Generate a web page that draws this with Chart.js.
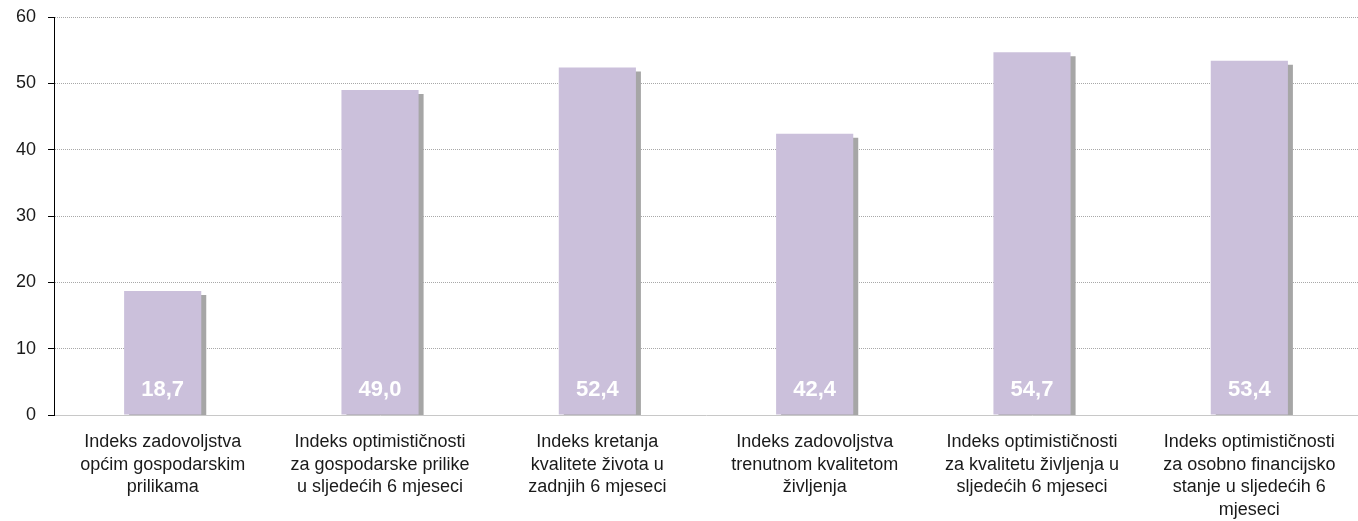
<!DOCTYPE html>
<html>
<head>
<meta charset="utf-8">
<script src="https://cdn.jsdelivr.net/npm/chart.js@4/dist/chart.umd.min.js"></script>
<style>
  html, body { margin: 0; padding: 0; background: #fff; }
  #wrap { width: 1358px; height: 521px; }
</style>
</head>
<body>
<div id="wrap"><canvas id="Chart1"></canvas></div>
<script>
var categories = [
  ['Indeks zadovoljstva', 'općim gospodarskim', 'prilikama'],
  ['Indeks optimističnosti', 'za gospodarske prilike', 'u sljedećih 6 mjeseci'],
  ['Indeks kretanja', 'kvalitete života u', 'zadnjih 6 mjeseci'],
  ['Indeks zadovoljstva', 'trenutnom kvalitetom', 'življenja'],
  ['Indeks optimističnosti', 'za kvalitetu življenja u', 'sljedećih 6 mjeseci'],
  ['Indeks optimističnosti', 'za osobno financijsko', 'stanje u sljedećih 6', 'mjeseci']
];
var values = [18.7, 49.0, 52.4, 42.4, 54.7, 53.4];
var yTicks = [0, 10, 20, 30, 40, 50, 60];

var FONT = "'Liberation Sans', Arial, sans-serif";

// hard drop shadow behind the bars
var barShadow = {
  id: 'barShadow',
  beforeDatasetDraw: function (chart) {
    var ctx = chart.ctx;
    ctx.save();
    ctx.shadowColor = '#a6a6a6';
    ctx.shadowBlur = 0;
    ctx.shadowOffsetX = 5;
    ctx.shadowOffsetY = 4;
  },
  afterDatasetDraw: function (chart) {
    chart.ctx.restore();
  }
};

// white value labels at the foot of each bar
var valueLabels = {
  id: 'valueLabels',
  afterDatasetsDraw: function (chart) {
    var ctx = chart.ctx;
    var meta = chart.getDatasetMeta(0);
    var base = chart.scales.y.getPixelForValue(0);
    ctx.save();
    ctx.fillStyle = '#ffffff';
    ctx.font = 'bold 22px ' + FONT;
    ctx.textAlign = 'center';
    ctx.textBaseline = 'middle';
    meta.data.forEach(function (bar, i) {
      ctx.fillText(values[i].toFixed(1).replace('.', ','), bar.x, base - 25);
    });
    ctx.restore();
  }
};

var ctx = document.getElementById('Chart1');
var Chart1 = new Chart(ctx, {
  type: 'bar',
  data: {
    labels: categories,
    datasets: [{
      data: values,
      backgroundColor: '#cbc0db',
      borderWidth: 0,
      categoryPercentage: 1,
      barPercentage: 0.355
    }]
  },
  options: {
    responsive: true,
    maintainAspectRatio: false,
    animation: false,
    layout: { padding: { top: 17, right: 0, left: 4, bottom: -16 } },
    plugins: {
      legend: { display: false },
      tooltip: { enabled: false }
    },
    scales: {
      x: {
        grid: { display: false, drawTicks: false },
        border: { color: '#c8c8c8', width: 1 },
        ticks: {
          color: '#1a1a1a',
          font: { family: FONT, size: 18, lineHeight: 1.25 },
          padding: 16,
          maxRotation: 0,
          autoSkip: false
        }
      },
      y: {
        min: 0,
        max: 60,
        afterBuildTicks: function (axis) {
          axis.ticks = yTicks.map(function (v) { return { value: v }; });
        },
        grid: {
          color: '#a8a8a8',
          tickColor: '#000',
          tickLength: 6,
          tickBorderDash: [],
          lineWidth: 1
        },
        border: { color: '#000', width: 1, dash: [1, 1] },
        ticks: {
          color: '#1a1a1a',
          font: { family: FONT, size: 18, lineHeight: 0.5 },
          padding: 12
        }
      }
    }
  },
  plugins: [barShadow, valueLabels]
});
</script>
</body>
</html>
